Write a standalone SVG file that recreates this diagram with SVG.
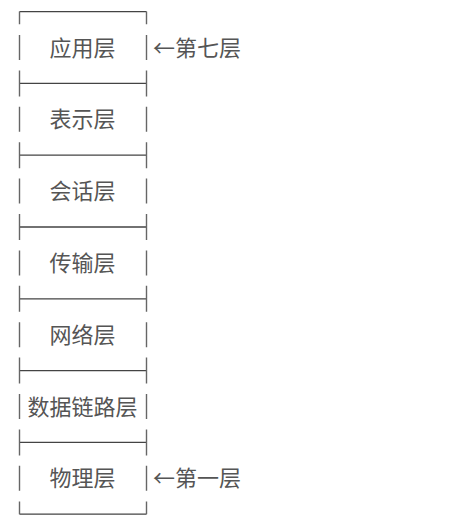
<svg xmlns="http://www.w3.org/2000/svg" width="461" height="526" viewBox="0 0 461 526">
<style>
.t{font-family:"Noto Sans CJK SC","Noto Sans CJK JP",sans-serif;font-size:22px;fill:#555;}
.m{text-anchor:middle;}
.h{stroke:#444;stroke-width:1.3;fill:none;}
.v{stroke:#666;stroke-width:1.4;fill:none;}
</style>
<rect width="461" height="526" fill="#fff"/>
<g id="connectors">
<path class="h" d="M19.5 11.6H146.5M19.5 83.4H146.5M19.5 155.2H146.5M19.5 227H146.5M19.5 298.8H146.5M19.5 370.6H146.5M19.5 442.4H146.5M19.5 514.2H146.5"/>
<path class="v" d="M19.5 11.6V24.3M146.5 11.6V24.3
M19.5 35V60M146.5 35V60
M19.5 70.4V96.4M146.5 70.4V96.4
M19.5 106.8V131.8M146.5 106.8V131.8
M19.5 142.2V168.2M146.5 142.2V168.2
M19.5 178.6V203.6M146.5 178.6V203.6
M19.5 214V240M146.5 214V240
M19.5 250.4V275.4M146.5 250.4V275.4
M19.5 285.8V311.8M146.5 285.8V311.8
M19.5 322.2V347.2M146.5 322.2V347.2
M19.5 357.6V383.6M146.5 357.6V383.6
M19.5 394V419M146.5 394V419
M19.5 429.4V455.4M146.5 429.4V455.4
M19.5 465.8V490.8M146.5 465.8V490.8
M19.5 501.5V514.2M146.5 501.5V514.2"/>
</g>
<g id="layer7"><text class="t m" x="82.5" y="55.5">应用层</text></g>
<g id="layer6"><text class="t m" x="82.5" y="127.3">表示层</text></g>
<g id="layer5"><text class="t m" x="82.5" y="199.1">会话层</text></g>
<g id="layer4"><text class="t m" x="82.5" y="270.9">传输层</text></g>
<g id="layer3"><text class="t m" x="82.5" y="342.7">网络层</text></g>
<g id="layer2"><text class="t m" x="82.5" y="414.5">数据链路层</text></g>
<g id="layer1"><text class="t m" x="82.5" y="486.3">物理层</text></g>
<g id="label-top"><text class="t" x="153" y="55.5">←第七层</text></g>
<g id="label-bottom"><text class="t" x="153" y="486.3">←第一层</text></g>
</svg>
